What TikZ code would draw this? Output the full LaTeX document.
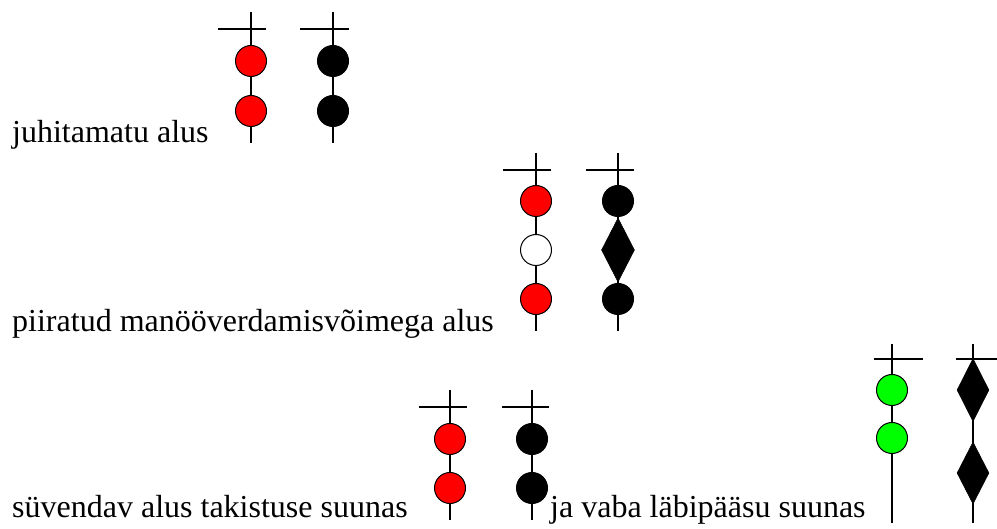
\documentclass[tikz,border=0pt]{standalone}
\usepackage{fontspec}
\setmainfont{Liberation Serif}
\usetikzlibrary{shapes.geometric}
\definecolor{sigred}{RGB}{255,0,0}
\definecolor{siggreen}{RGB}{0,255,0}
\begin{document}
\begin{tikzpicture}[x=1pt,y=-1pt,
  mast/.style={line width=2pt,black},
  lamp/.style={circle,draw=black,line width=1pt,minimum size=31pt,inner sep=0pt},
  redlamp/.style={lamp,fill=sigred},
  blacklamp/.style={lamp,fill=black},
  whitelamp/.style={lamp,fill=white},
  greenlamp/.style={lamp,fill=siggreen},
  shape2/.style={diamond,fill=black,draw=black,line width=0.5pt,inner sep=0pt,minimum width=33pt,minimum height=64pt},
  lbl/.style={anchor=base west,inner sep=0pt,font=\fontsize{32}{38}\selectfont}]
\useasboundingbox (0,0) rectangle (997,529);
% ---- group 1
\coordinate (a1t) at (251,12); \coordinate (a1b) at (251,143);
\coordinate (a1l) at (218,29); \coordinate (a1r) at (266,29);
\draw[mast] (a1t) -- (a1b); \draw[mast] (a1l) -- (a1r);
\node[redlamp] (a1c1) at (251,61) {};
\node[redlamp] (a1c2) at (251,111) {};
\coordinate (b1t) at (333,12); \coordinate (b1b) at (333,143);
\coordinate (b1l) at (300,29); \coordinate (b1r) at (349,29);
\draw[mast] (b1t) -- (b1b); \draw[mast] (b1l) -- (b1r);
\node[blacklamp] (b1c1) at (333,61) {};
\node[blacklamp] (b1c2) at (333,111) {};
\node[lbl] (t1) at (12,143) {juhitamatu alus};
% ---- group 2
\coordinate (a2t) at (536,153); \coordinate (a2b) at (536,331);
\coordinate (a2l) at (503,170); \coordinate (a2r) at (551,170);
\draw[mast] (a2t) -- (a2b); \draw[mast] (a2l) -- (a2r);
\node[redlamp] (a2c1) at (536,201) {};
\node[whitelamp] (a2c2) at (536,250) {};
\node[redlamp] (a2c3) at (536,299) {};
\coordinate (b2t) at (618,153); \coordinate (b2b) at (618,331);
\coordinate (b2l) at (586,170); \coordinate (b2r) at (634,170);
\draw[mast] (b2t) -- (b2b); \draw[mast] (b2l) -- (b2r);
\node[blacklamp] (b2c1) at (618,201) {};
\node[shape2] (b2d) at (618,250) {};
\node[blacklamp] (b2c3) at (618,299) {};
\node[lbl] (t2) at (12,332) {piiratud manööverdamisvõimega alus};
% ---- group 3
\coordinate (a3t) at (450,390); \coordinate (a3b) at (450,520);
\coordinate (a3l) at (419,407); \coordinate (a3r) at (467,407);
\draw[mast] (a3t) -- (a3b); \draw[mast] (a3l) -- (a3r);
\node[redlamp] (a3c1) at (450,439) {};
\node[redlamp] (a3c2) at (450,488) {};
\coordinate (b3t) at (532,390); \coordinate (b3b) at (532,520);
\coordinate (b3l) at (502,407); \coordinate (b3r) at (549,407);
\draw[mast] (b3t) -- (b3b); \draw[mast] (b3l) -- (b3r);
\node[blacklamp] (b3c1) at (532,439) {};
\node[blacklamp] (b3c2) at (532,488) {};
\node[lbl] (t3) at (12,517) {süvendav alus takistuse suunas};
% ---- group 4
\coordinate (a4t) at (892,344); \coordinate (a4b) at (892,523);
\coordinate (a4l) at (874,359); \coordinate (a4r) at (923,359);
\draw[mast] (a4t) -- (a4b); \draw[mast] (a4l) -- (a4r);
\node[greenlamp] (a4c1) at (892,390) {};
\node[greenlamp] (a4c2) at (892,438) {};
\coordinate (b4t) at (973,344); \coordinate (b4b) at (973,523);
\coordinate (b4l) at (956,359); \coordinate (b4r) at (997,359);
\draw[mast] (b4t) -- (b4b); \draw[mast] (b4l) -- (b4r);
\node[shape2,minimum width=32pt,minimum height=63pt] (b4d1) at (973,390) {};
\node[shape2,minimum width=32pt,minimum height=62pt] (b4d2) at (973,473) {};
\node[lbl] (t4) at (550,517) {ja vaba läbipääsu suunas};
\end{tikzpicture}
\end{document}
